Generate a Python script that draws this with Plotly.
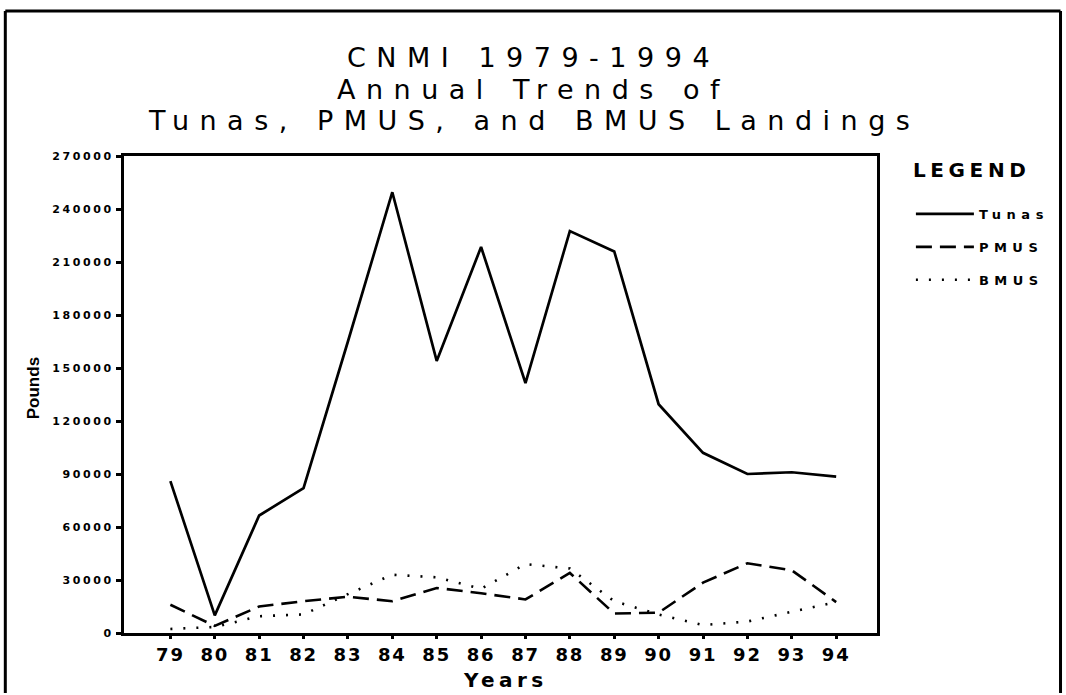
import plotly.graph_objects as go

# Landings by year (pounds)
years = [79, 80, 81, 82, 83, 84, 85, 86, 87, 88, 89, 90, 91, 92, 93, 94]
year_labels = ["79", "80", "81", "82", "83", "84", "85", "86",
               "87", "88", "89", "90", "91", "92", "93", "94"]
tunas = [86000, 10000, 66500, 82000, 165000, 249500, 154000, 218500,
         141500, 227500, 216000, 129500, 102000, 90000, 91000, 88500]
pmus = [16000, 4000, 15000, 18000, 20500, 18000, 25500, 22500,
        19000, 34000, 11000, 11500, 28500, 39500, 35500, 17500]
bmus = [2300, 3400, 9500, 10500, 22000, 33000, 31500, 25000,
        39000, 36500, 18000, 10500, 4500, 6500, 12000, 17500]
y_ticks = [0, 30000, 60000, 90000, 120000, 150000, 180000, 210000, 240000, 270000]
y_labels = ["0", "30000", "60000", "90000", "120000", "150000",
            "180000", "210000", "240000", "270000"]

W, H = 1066, 695
ML, MR, MT, MB = 124, 187, 156, 62
PW, PH = W - ML - MR, H - MT - MB


def spaced(text, px):
    return f"<span style='letter-spacing:{px}px'>{text}</span>"


def px_x(p):
    return (p - ML) / PW


def px_y(p):
    return (H - MB - p) / PH


WIDE = "DejaVu Sans"

fig = go.Figure()
fig.add_trace(go.Scatter(x=years, y=tunas, mode="lines", name=spaced("Tunas", 5.5),
                         legendgroup="a",
                         line=dict(color="black", width=2.7)))
fig.add_trace(go.Scatter(x=years, y=pmus, mode="lines", name=spaced("PMUS", 5.5),
                         legendgroup="b",
                         line=dict(color="black", width=2.6, dash="16px,8px")))
fig.add_trace(go.Scatter(x=years, y=bmus, mode="lines", name=spaced("BMUS", 5.5),
                         legendgroup="c",
                         line=dict(color="black", width=2.6, dash="2px,11px")))

annotations = []
# three-line title
title_lines = [("CNMI 1979-1994", 57.5), ("Annual Trends of", 89),
               ("Tunas, PMUS, and BMUS Landings", 120.5)]
for txt, yc in title_lines:
    annotations.append(dict(text=spaced(txt, 10.5), x=px_x(535), y=px_y(yc),
                            xref="paper", yref="paper", xanchor="center",
                            yanchor="middle", showarrow=False,
                            font=dict(family=WIDE, size=27, color="black")))
annotations.append(dict(text=spaced("LEGEND", 4.6), x=px_x(913), y=px_y(170),
                        xref="paper", yref="paper", xanchor="left", yanchor="middle",
                        showarrow=False,
                        font=dict(family=WIDE, size=20, color="black", weight="bold")))
annotations.append(dict(text=spaced("Years", 4.4), x=px_x(506), y=px_y(679.5),
                        xref="paper", yref="paper", xanchor="center", yanchor="middle",
                        showarrow=False,
                        font=dict(family=WIDE, size=20, color="black", weight="bold")))
annotations.append(dict(text="Pounds", x=px_x(33), y=px_y(388), textangle=-90,
                        xref="paper", yref="paper", xanchor="center", yanchor="middle",
                        showarrow=False,
                        font=dict(family="Liberation Sans Narrow, Liberation Sans",
                                  size=17, color="black", weight="bold")))

# page frame
frame = dict(color="black", width=3)
x0, x1 = px_x(5), px_x(1063)
y0, y1 = px_y(693), px_y(11)
shapes = [
    dict(type="line", xref="paper", yref="paper", x0=x0, x1=x0, y0=y0, y1=y1, line=frame),
    dict(type="line", xref="paper", yref="paper", x0=x0, x1=x1, y0=y1, y1=y1, line=frame),
    dict(type="line", xref="paper", yref="paper", x0=x1, x1=x1, y0=y0, y1=y1, line=frame),
]

fig.update_layout(
    width=W, height=H,
    margin=dict(l=ML, r=MR, t=MT, b=MB),
    paper_bgcolor="white", plot_bgcolor="white",
    showlegend=True,
    legend=dict(x=px_x(913), xanchor="left", y=px_y(199), yanchor="top",
                itemwidth=58, tracegroupgap=13, bgcolor="rgba(0,0,0,0)",
                font=dict(family=WIDE, size=13, color="black", weight="bold")),
    annotations=annotations,
    shapes=shapes,
)
fig.update_xaxes(range=[77.955, 94.92], tickmode="array", tickvals=years,
                 ticktext=[spaced(t, 1.8) for t in year_labels],
                 showline=True, mirror=True, linecolor="black", linewidth=3,
                 ticks="outside", ticklen=3, tickwidth=3, tickcolor="black",
                 showgrid=False, zeroline=False,
                 tickfont=dict(family=WIDE, size=18, color="black", weight="bold"))
fig.update_yaxes(range=[0, 270000], tickmode="array", tickvals=y_ticks,
                 ticktext=[spaced(t, 2.6) for t in y_labels],
                 showline=True, mirror=True, linecolor="black", linewidth=3,
                 ticks="outside", ticklen=5, tickwidth=2.5, tickcolor="black",
                 showgrid=False, zeroline=False,
                 tickfont=dict(family=WIDE, size=11, color="black", weight="bold"))

fig.write_html("out.html")
